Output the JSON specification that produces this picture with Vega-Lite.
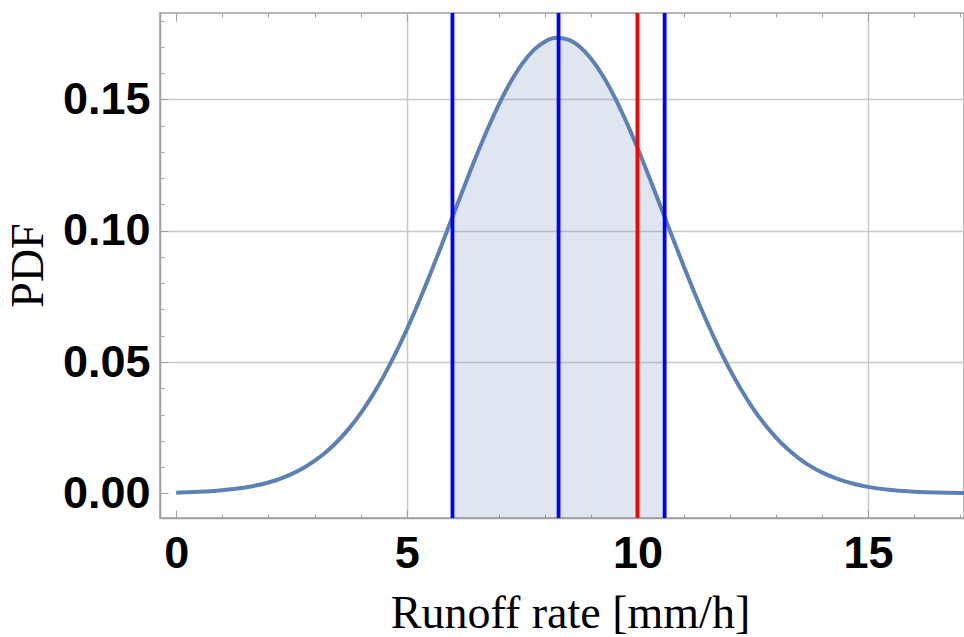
{
  "$schema": "https://vega.github.io/schema/vega-lite/v6.json",
  "width": 804,
  "height": 505,
  "autosize": {"type": "none"},
  "padding": {"left": 160, "top": 13, "right": 0, "bottom": 119},
  "background": "white",
  "config": {"view": {"stroke": "#a0a0a0", "strokeWidth": 1.5}},
  "datasets": {
    "curve": [
      {"x": 0, "pdf": 0.000262}, {"x": 0.25, "pdf": 0.000385}, {"x": 0.5, "pdf": 0.00056}, {"x": 0.75, "pdf": 0.000804},
      {"x": 1, "pdf": 0.001142}, {"x": 1.25, "pdf": 0.001602}, {"x": 1.5, "pdf": 0.002222}, {"x": 1.75, "pdf": 0.003044},
      {"x": 2, "pdf": 0.004123}, {"x": 2.25, "pdf": 0.005518}, {"x": 2.5, "pdf": 0.007299}, {"x": 2.75, "pdf": 0.009537},
      {"x": 3, "pdf": 0.012314}, {"x": 3.25, "pdf": 0.015719}, {"x": 3.5, "pdf": 0.01983}, {"x": 3.75, "pdf": 0.024725},
      {"x": 4, "pdf": 0.030455}, {"x": 4.25, "pdf": 0.037088}, {"x": 4.5, "pdf": 0.044623}, {"x": 4.75, "pdf": 0.05306},
      {"x": 5, "pdf": 0.062356}, {"x": 5.25, "pdf": 0.072416}, {"x": 5.5, "pdf": 0.083115}, {"x": 5.75, "pdf": 0.094269},
      {"x": 6, "pdf": 0.105668}, {"x": 6.25, "pdf": 0.117053}, {"x": 6.5, "pdf": 0.128137}, {"x": 6.75, "pdf": 0.138626},
      {"x": 7, "pdf": 0.148215}, {"x": 7.25, "pdf": 0.156603}, {"x": 7.5, "pdf": 0.163524}, {"x": 7.75, "pdf": 0.168743},
      {"x": 8, "pdf": 0.172086}, {"x": 8.25, "pdf": 0.173434}, {"x": 8.5, "pdf": 0.172738}, {"x": 8.75, "pdf": 0.170025},
      {"x": 9, "pdf": 0.165389}, {"x": 9.25, "pdf": 0.15899}, {"x": 9.5, "pdf": 0.151044}, {"x": 9.75, "pdf": 0.141805},
      {"x": 10, "pdf": 0.131573}, {"x": 10.25, "pdf": 0.120636}, {"x": 10.5, "pdf": 0.109321}, {"x": 10.75, "pdf": 0.097903},
      {"x": 11, "pdf": 0.086643}, {"x": 11.25, "pdf": 0.07578}, {"x": 11.5, "pdf": 0.065499}, {"x": 11.75, "pdf": 0.055948},
      {"x": 12, "pdf": 0.04723}, {"x": 12.25, "pdf": 0.039403}, {"x": 12.5, "pdf": 0.032482}, {"x": 12.75, "pdf": 0.026467},
      {"x": 13, "pdf": 0.02131}, {"x": 13.25, "pdf": 0.016958}, {"x": 13.5, "pdf": 0.013336}, {"x": 13.75, "pdf": 0.010364},
      {"x": 14, "pdf": 0.00796}, {"x": 14.25, "pdf": 0.006042}, {"x": 14.5, "pdf": 0.004531}, {"x": 14.75, "pdf": 0.00336},
      {"x": 15, "pdf": 0.002461}, {"x": 15.25, "pdf": 0.001781}, {"x": 15.5, "pdf": 0.001274}, {"x": 15.75, "pdf": 0.000901},
      {"x": 16, "pdf": 0.000629}, {"x": 16.25, "pdf": 0.000435}, {"x": 16.5, "pdf": 0.000297}, {"x": 16.75, "pdf": 0.0002},
      {"x": 17, "pdf": 0.000133}, {"x": 17.1, "pdf": 0.000112}
    ],
    "band": [
      {"x": 5.99, "pdf": 0.10521}, {"x": 6, "pdf": 0.105668}, {"x": 6.25, "pdf": 0.117053}, {"x": 6.5, "pdf": 0.128137}, {"x": 6.75, "pdf": 0.138626},
      {"x": 7, "pdf": 0.148215}, {"x": 7.25, "pdf": 0.156603}, {"x": 7.5, "pdf": 0.163524}, {"x": 7.75, "pdf": 0.168743},
      {"x": 8, "pdf": 0.172086}, {"x": 8.25, "pdf": 0.173434}, {"x": 8.5, "pdf": 0.172738}, {"x": 8.75, "pdf": 0.170025},
      {"x": 9, "pdf": 0.165389}, {"x": 9.25, "pdf": 0.15899}, {"x": 9.5, "pdf": 0.151044}, {"x": 9.75, "pdf": 0.141805},
      {"x": 10, "pdf": 0.131573}, {"x": 10.25, "pdf": 0.120636}, {"x": 10.5, "pdf": 0.109321}, {"x": 10.59, "pdf": 0.10521}
    ],
    "lines": [
      {"x": 5.99, "kind": "mean - sd"},
      {"x": 8.29, "kind": "mean"},
      {"x": 10.59, "kind": "mean + sd"},
      {"x": 10.0, "kind": "observed"}
    ]
  },
  "resolve": {"axis": {"x": "independent"}},
  "layer": [
    {
      "data": {"name": "band"},
      "mark": {"type": "area", "color": "#5e81b5", "opacity": 0.2, "clip": true},
      "encoding": {
        "x": {
          "field": "x", "type": "quantitative",
          "scale": {"domain": [-0.35, 17.08], "nice": false, "zero": false},
          "axis": {
            "orient": "bottom",
            "values": [0, 1, 2, 3, 4, 5, 6, 7, 8, 9, 10, 11, 12, 13, 14, 15, 16, 17],
            "tickCount": 60,
            "labelExpr": "datum.value % 5 === 0 ? format(datum.value, 'd') : ''",
            "labelFont": "Liberation Sans", "labelFontWeight": "bold", "labelFontSize": 45, "labelColor": "black",
            "labelPadding": 21, "labelFlush": false, "labelOverlap": false,
            "tickSize": {"condition": {"test": "datum.value % 5 === 0", "value": -8}, "value": -4},
            "tickColor": "#a0a0a0", "tickWidth": 1,
            "domainColor": "#a0a0a0", "domainWidth": 1.5,
            "grid": true, "gridColor": "#c8c8c8", "gridWidth": 1.5,
            "gridOpacity": {"condition": {"test": "datum.value % 5 === 0 && datum.value > 0", "value": 1}, "value": 0},
            "title": "Runoff rate [mm/h]", "titleFont": "Liberation Serif", "titleFontSize": 46, "titleFontWeight": "normal",
            "titleColor": "black", "titleX": 410, "titleY": 109, "titleBaseline": "alphabetic", "titleAlign": "center"
          }
        },
        "y": {
          "field": "pdf", "type": "quantitative",
          "scale": {"domain": [-0.0094, 0.1829], "nice": false, "zero": false},
          "axis": {
            "values": [0, 0.01, 0.02, 0.03, 0.04, 0.05, 0.06, 0.07, 0.08, 0.09, 0.1, 0.11, 0.12, 0.13, 0.14, 0.15, 0.16, 0.17, 0.18],
            "tickCount": 60,
            "labelExpr": "indexof(['0.000','0.050','0.100','0.150'], format(datum.value, '.3f')) >= 0 ? format(datum.value, '.2f') : ''",
            "labelFont": "Liberation Sans", "labelFontWeight": "bold", "labelFontSize": 45, "labelColor": "black",
            "labelPadding": 18, "labelFlush": false, "labelOverlap": false, "labelBaseline": "middle",
            "tickSize": {"condition": {"test": "indexof(['0.000','0.050','0.100','0.150'], format(datum.value, '.3f')) >= 0", "value": -8}, "value": -4},
            "tickColor": "#a0a0a0", "tickWidth": 1,
            "domainColor": "#a0a0a0", "domainWidth": 1.5,
            "grid": true, "gridColor": "#c8c8c8", "gridWidth": 1.5,
            "gridOpacity": {"condition": {"test": "indexof(['0.050','0.100','0.150'], format(datum.value, '.3f')) >= 0", "value": 1}, "value": 0},
            "title": "PDF", "titleFont": "Liberation Serif", "titleFontSize": 46, "titleFontWeight": "normal",
            "titleColor": "black", "titleX": -118, "titleY": 252, "titleAngle": -90, "titleBaseline": "alphabetic", "titleAlign": "center"
          }
        },
        "y2": {"datum": -0.0094}
      }
    },
    {
      "data": {"name": "curve"},
      "mark": {"type": "line", "color": "#5e81b5", "strokeWidth": 4, "clip": true, "interpolate": "monotone"},
      "encoding": {
        "x": {
          "field": "x", "type": "quantitative",
          "axis": {
            "orient": "top",
            "values": [0, 1, 2, 3, 4, 5, 6, 7, 8, 9, 10, 11, 12, 13, 14, 15, 16, 17],
            "tickCount": 60,
            "labels": false, "domain": false, "grid": false, "title": null,
            "tickSize": {"condition": {"test": "datum.value % 5 === 0", "value": -8}, "value": -4},
            "tickColor": "#a0a0a0", "tickWidth": 1
          }
        },
        "y": {"field": "pdf", "type": "quantitative"}
      }
    },
    {
      "data": {"name": "lines"},
      "mark": {"type": "rule", "strokeWidth": 3.8},
      "encoding": {
        "x": {"field": "x", "type": "quantitative", "axis": null},
        "color": {
          "field": "kind", "type": "nominal",
          "scale": {"domain": ["mean - sd", "mean", "mean + sd", "observed"], "range": ["#0000ff", "#0000ff", "#0000ff", "#ff0000"]},
          "legend": null
        }
      }
    }
  ]
}
